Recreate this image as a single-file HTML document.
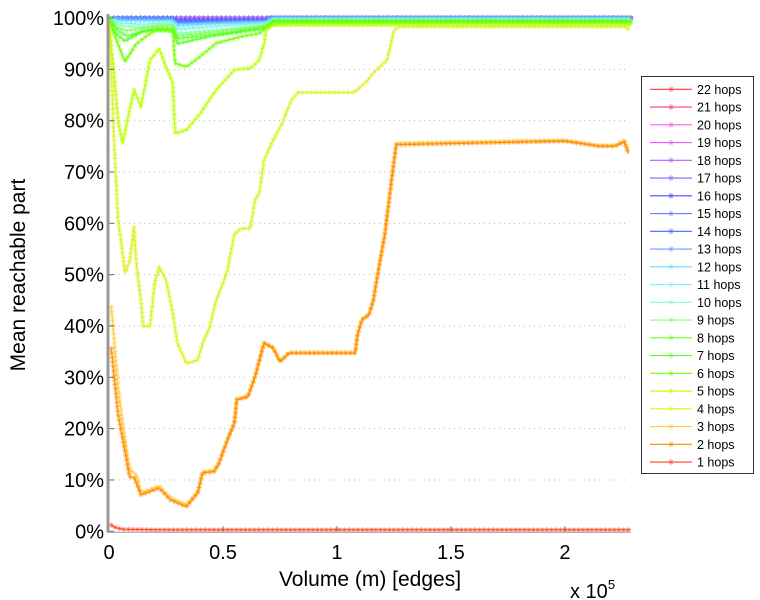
<!DOCTYPE html>
<html><head><meta charset="utf-8"><style>
body{margin:0;background:#fff;}
svg{display:block;font-family:"Liberation Sans",sans-serif;}
</style></head><body>
<svg id="chart" width="760" height="600" viewBox="0 0 760 600">
<g id="grid"></g>
<g id="series"></g>
<g id="axes"></g>
<g id="legend"></g>
</svg>
<script>
const yTicks=[0,10,20,30,40,50,60,70,80,90,100];
const xTicks=[0,0.5,1,1.5,2];
const xTickLabels=["0","0.5","1","1.5","2"];
const hopLabels=["22 hops","21 hops","20 hops","19 hops","18 hops","17 hops","16 hops","15 hops","14 hops","13 hops","12 hops","11 hops","10 hops","9 hops","8 hops","7 hops","6 hops","5 hops","4 hops","3 hops","2 hops","1 hops"];
const hopColors=["#ff3b3b","#ff3c78","#ff5cf0","#e65cff","#b85cff","#8a5cff","#4646ff","#6a7dff","#3b6cff","#6a9cff","#66ddff","#88eeee","#88ffc0","#88ff66","#66ff33","#55ff22","#77ff00","#bbff00","#ddf020","#ffcc44","#ff8a00","#ff4422"];
// values: [x (x1e5 edges), mean reachable %]
const s22=[[0,100],[2.29,100]];
const s21=[[0,100],[2.29,100]];
const s20=[[0,100],[2.29,100]];
const s19=[[0,100],[2.29,100]];
const s18=[[0,100],[2.29,100]];
const s17=[[0,100],[2.29,100]];
const s16=[[0,100],[0.28,100],[0.29,99.6],[0.69,99.6],[0.7,100],[2.29,100]];
const s15=[[0,100],[0.28,100],[0.29,99.4],[0.69,99.5],[0.7,100],[2.29,100]];
const s14=[[0,100],[0.28,100],[0.29,99.2],[0.69,99.4],[0.7,100],[2.29,100]];
const s13=[[0,100],[0.1,99.8],[0.28,99.8],[0.3,99],[0.69,99.3],[0.7,100],[2.29,100]];
const s12=[[0,100],[0.05,99.5],[0.28,99.5],[0.3,98.5],[0.5,99],[0.69,99.2],[0.72,100],[2.29,100]];
const s11=[[0,100],[0.05,99],[0.15,98.8],[0.28,99.2],[0.3,97.8],[0.5,98.5],[0.69,99],[0.72,99.8],[2.29,99.8]];
const s10=[[0,100],[0.05,98.5],[0.15,98.2],[0.28,98.8],[0.3,97],[0.5,97.8],[0.69,98.5],[0.72,99.6],[2.29,99.6]];
const s9=[[0,100],[0.04,98],[0.08,97.5],[0.2,98.5],[0.28,98.5],[0.3,96.5],[0.5,97.5],[0.69,98.5],[0.72,99.5],[2.29,99.5]];
const s8=[[0,100],[0.04,97.5],[0.08,96.5],[0.2,98],[0.28,98],[0.3,96],[0.5,97],[0.69,98.3],[0.72,99.4],[2.29,99.4]];
const s7=[[0,100],[0.03,97],[0.07,95.5],[0.15,97.5],[0.28,97.5],[0.3,95],[0.45,96.5],[0.69,98],[0.72,99.3],[2.29,99.3]];
const s6=[[0,99.5],[0.03,96],[0.07,91.5],[0.12,95],[0.18,97],[0.22,97.9],[0.28,97.5],[0.29,91.2],[0.34,90.5],[0.4,92.5],[0.47,95.1],[0.58,96.4],[0.66,97],[0.69,98.4],[0.75,99],[2.29,99]];
const s5=[[0,99],[0.02,90],[0.04,80],[0.06,75.6],[0.09,82],[0.11,86],[0.14,82.7],[0.18,91.8],[0.22,94],[0.25,90.5],[0.28,87.3],[0.29,77.5],[0.34,78.2],[0.4,81.4],[0.47,86],[0.55,89.9],[0.62,90.2],[0.66,91.8],[0.68,95],[0.69,97.7],[0.72,98.6],[2.29,98.6]];
const s4=[[0,98],[0.01,90],[0.02,77.6],[0.04,60.6],[0.06,54],[0.07,50.4],[0.09,52.5],[0.11,59.3],[0.12,52],[0.14,45],[0.15,39.9],[0.18,39.9],[0.2,48.3],[0.22,51.5],[0.25,49],[0.28,42.5],[0.3,36.6],[0.34,32.7],[0.39,33.4],[0.41,36.6],[0.44,39.5],[0.47,45],[0.5,48.3],[0.52,50.9],[0.55,58],[0.58,59],[0.62,59],[0.64,64.5],[0.66,65.9],[0.68,72.3],[0.72,76.2],[0.76,79.5],[0.8,84],[0.83,85.5],[1.075,85.5],[1.13,87.6],[1.16,89.3],[1.22,91.8],[1.25,97.6],[1.27,98.3],[2.27,98.3],[2.28,97.6]];
const s3=[[0.01,43.7],[0.04,28],[0.06,21],[0.09,12],[0.12,11],[0.14,7.5],[0.22,8.8],[0.27,6.5],[0.34,5.2],[0.39,7.8],[0.41,11.6],[0.46,11.9],[0.48,13.2],[0.52,18],[0.55,21.3],[0.56,25.8],[0.61,26.4],[0.64,30.2],[0.68,36.8],[0.72,35.9],[0.75,33.2],[0.79,34.9],[1.08,34.9],[1.09,38.4],[1.11,41.4],[1.14,42.3],[1.16,45.2],[1.18,50.6],[1.21,58],[1.23,65.2],[1.26,75.6],[2.0,76.2],[2.15,75.2],[2.22,75.2],[2.26,76.1],[2.28,73.8]];
const s2=[[0.01,35.6],[0.04,22.7],[0.06,18],[0.09,10.6],[0.11,10.5],[0.14,7.1],[0.22,8.4],[0.27,6.1],[0.34,4.8],[0.39,7.5],[0.41,11.4],[0.46,11.6],[0.48,12.9],[0.52,17.8],[0.55,21],[0.56,25.6],[0.61,26.2],[0.64,30],[0.68,36.6],[0.72,35.7],[0.75,33],[0.79,34.7],[1.08,34.7],[1.09,38.2],[1.11,41.2],[1.14,42.1],[1.16,45],[1.18,50.4],[1.21,57.7],[1.23,65],[1.26,75.3],[2.0,76],[2.15,75],[2.22,75],[2.26,75.9],[2.28,73.5]];
const s1=[[0.01,1.2],[0.03,0.7],[0.06,0.4],[0.2,0.3],[2.29,0.3]];
const seriesData=[s22,s21,s20,s19,s18,s17,s16,s15,s14,s13,s12,s11,s10,s9,s8,s7,s6,s5,s4,s3,s2,s1];

const NS="http://www.w3.org/2000/svg";
const X0=109,X1=631,Y0=531.3,Y1=18,XMAX=2.29;
function xs(v){return X0+(v/XMAX)*(X1-X0);}
function ys(v){return Y0-(v/100)*(Y0-Y1);}
function mk(tag,attrs,parent){const e=document.createElementNS(NS,tag);for(const k in attrs)e.setAttribute(k,attrs[k]);parent.appendChild(e);return e;}
const grid=document.getElementById('grid'),axes=document.getElementById('axes'),ser=document.getElementById('series'),leg=document.getElementById('legend');

yTicks.forEach(t=>{
  const y=ys(t);
  if(t>0&&t<100){const g=mk('line',{x1:X0,x2:X1-4,y1:y,y2:y,stroke:'#bbb','stroke-width':1,'stroke-dasharray':'1,4'},grid);
  
  }
  const tk=mk('line',{x1:X0,x2:X0+5,y1:y,y2:y,stroke:'#666'},axes);
  
  
  const tx=mk('text',{x:104,y:y+7,'text-anchor':'end','font-size':20,fill:'#000'},axes);
  tx.textContent=t+'%';
  
  
});
xTicks.forEach((t,i)=>{
  const x=xs(t);
  const tk=mk('line',{x1:x,x2:x,y1:Y0,y2:Y0-5,stroke:'#666'},axes);
  
  
  const tx=mk('text',{x:x,y:559,'text-anchor':'middle','font-size':20,fill:'#000'},axes);
  tx.textContent=xTickLabels[i];
  
  
});
const la=mk('line',{x1:X0-1,x2:X0-1,y1:Y1-4,y2:Y0+1,stroke:'#999','stroke-width':3},axes);


const lb=mk('line',{x1:X0-2,x2:X1,y1:Y0+1,y2:Y0+1,stroke:'#999','stroke-width':1},axes);


const xl=mk('text',{x:370,y:586,'text-anchor':'middle','font-size':21},axes);
xl.textContent='Volume (m) [edges]';


const yl=mk('text',{x:0,y:0,'text-anchor':'middle','font-size':21,transform:'translate(25,275) rotate(-90)'},axes);
yl.textContent='Mean reachable part';


const ex=mk('text',{x:570,y:598,'font-size':20},axes);
ex.innerHTML='x 10<tspan dy="-9" font-size="13">5</tspan>';



function star(parent,x,y,c,r){
  const d=`M${x-r},${y}H${x+r}M${x},${y-r}V${y+r}M${x-r*.7},${y-r*.7}L${x+r*.7},${y+r*.7}M${x-r*.7},${y+r*.7}L${x+r*.7},${y-r*.7}`;
  return mk('path',{d:d,stroke:c,'stroke-width':0.7,fill:'none','stroke-opacity':0.75},parent);
}
seriesData.forEach((arr,i)=>{
  const g=mk('g',{},ser);
  
  
  const pts=arr.map(p=>xs(p[0]).toFixed(1)+','+ys(p[1]).toFixed(1)).join(' ');
  const pl=mk('polyline',{points:pts,fill:'none',stroke:hopColors[i],'stroke-width':1},g);
  
  
  const L=pl.getTotalLength();
  const mg=mk('g',{},g);
  
  
  for(let s=0;s<=L;s+=4.5){const p=pl.getPointAtLength(s);star(mg,p.x,p.y,hopColors[i],2.6);}
});

const box=mk('rect',{x:641.5,y:76.5,width:112,height:397,fill:'#fff',stroke:'#333','stroke-width':1},leg);


hopLabels.forEach((lab,i)=>{
  const y=89.3+i*17.75;
  const g=mk('g',{},leg);
  
  
  mk('line',{x1:650,x2:692,y1:y,y2:y,stroke:hopColors[i],'stroke-width':1.2},g);
  star(g,671,y,hopColors[i],3);
  const t=mk('text',{x:697,y:y+4.5,'font-size':12.5},g);
  t.textContent=lab;
});
</script>
</body></html>
